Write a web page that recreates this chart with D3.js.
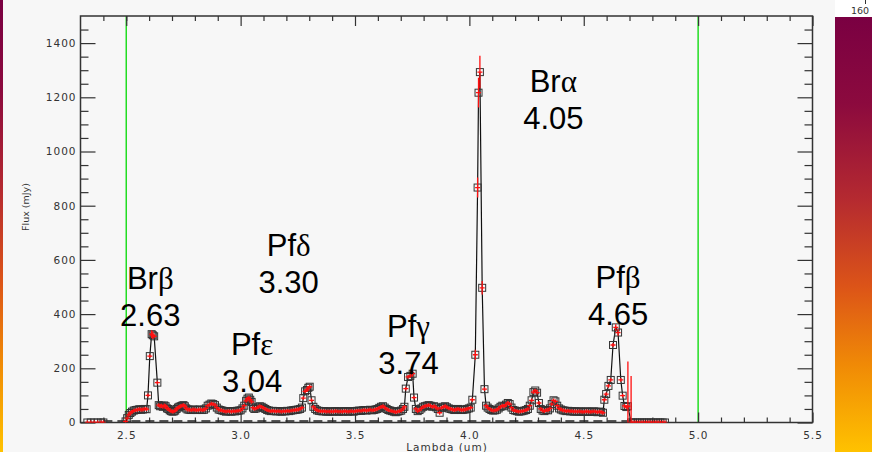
<!DOCTYPE html>
<html>
<head>
<meta charset="utf-8">
<script src="https://cdn.jsdelivr.net/npm/d3@7"></script>
<style>
  html, body { margin: 0; padding: 0; background: #f7f7f7; }
  svg { display: block; }
</style>
</head>
<body>
<svg id="chart" width="872" height="452"></svg>
<script>
// spectrum: wavelength (um) and flux (mJy)
var wavelength = [
  2.33, 2.345, 2.36, 2.375, 2.39, 2.40,
  2.497, 2.504, 2.511, 2.518, 2.525, 2.533, 2.541, 2.549, 2.557, 2.565, 2.573, 2.581, 2.589,
  2.595, 2.603, 2.611, 2.616, 2.622, 2.636, 2.642,
  2.648, 2.654, 2.660, 2.666, 2.672, 2.678, 2.684, 2.690, 2.696, 2.702, 2.708, 2.714, 2.720,
  2.726, 2.732, 2.738, 2.744, 2.750, 2.756, 2.762, 2.768, 2.776, 2.784, 2.792, 2.800, 2.808,
  2.816, 2.824, 2.832, 2.840, 2.848, 2.856, 2.864, 2.872, 2.880, 2.888, 2.896, 2.904, 2.912,
  2.920, 2.928, 2.936, 2.944, 2.952, 2.960, 2.968, 2.976, 2.984, 2.992, 3.000, 3.008, 3.016,
  3.024, 3.030, 3.036, 3.042, 3.048, 3.054, 3.060, 3.068, 3.076, 3.084, 3.092, 3.100, 3.108,
  3.116, 3.124, 3.132, 3.140, 3.148, 3.156, 3.164, 3.172, 3.180, 3.188, 3.196, 3.204, 3.212,
  3.220, 3.228, 3.236, 3.244, 3.252, 3.260, 3.268, 3.274, 3.282, 3.290, 3.296, 3.302, 3.310,
  3.318, 3.326, 3.334, 3.342, 3.350, 3.358, 3.366, 3.374, 3.382, 3.390, 3.398, 3.406, 3.414,
  3.422, 3.430, 3.438, 3.446, 3.454, 3.462, 3.470, 3.478, 3.486, 3.494, 3.502, 3.510, 3.518,
  3.526, 3.534, 3.542, 3.550, 3.558, 3.566, 3.574, 3.582, 3.590, 3.598, 3.606, 3.614, 3.622,
  3.630, 3.638, 3.646, 3.654, 3.662, 3.670, 3.678, 3.686, 3.694, 3.702, 3.710, 3.716, 3.722,
  3.732, 3.742, 3.752, 3.758, 3.766, 3.774, 3.782, 3.790, 3.798, 3.806, 3.814, 3.822, 3.830,
  3.838, 3.846, 3.854, 3.862, 3.870, 3.878, 3.886, 3.894, 3.902, 3.910, 3.918, 3.926, 3.934,
  3.942, 3.950, 3.958, 3.966, 3.974, 3.982, 3.990, 3.998, 4.006, 4.013, 4.026, 4.036, 4.040,
  4.046, 4.056, 4.066, 4.073, 4.080, 4.088, 4.096, 4.104, 4.112, 4.120, 4.128, 4.136, 4.144,
  4.152, 4.160, 4.168, 4.176, 4.184, 4.192, 4.200, 4.208, 4.216, 4.224, 4.232, 4.240, 4.248,
  4.256, 4.264, 4.272, 4.280, 4.288, 4.296, 4.304, 4.312, 4.320, 4.328, 4.336, 4.344, 4.352,
  4.360, 4.368, 4.376, 4.384, 4.392, 4.400, 4.408, 4.416, 4.424, 4.432, 4.440, 4.448, 4.456,
  4.464, 4.472, 4.480, 4.488, 4.496, 4.504, 4.512, 4.520, 4.528, 4.536, 4.544, 4.552, 4.560,
  4.568, 4.576, 4.584, 4.590, 4.598, 4.608, 4.618, 4.628, 4.640, 4.650, 4.662, 4.670, 4.678,
  4.686, 4.693, 4.707, 4.715, 4.725, 4.735, 4.745, 4.755, 4.765, 4.775, 4.785, 4.795, 4.805,
  4.815, 4.825, 4.835, 4.845, 4.855
];
var flux = [
  0, 0, 0, 0, 0, 0,
  4, 16, 28, 35, 40, 44, 46, 47, 49, 47, 48, 50, 49,
  100, 245, 326, 322, 318, 147, 64,
  60, 62, 58, 63, 60, 52, 50, 45, 42, 40, 41, 44, 50,
  55, 58, 60, 62, 64, 60, 52, 48, 47, 46, 48, 47, 46,
  47, 48, 46, 47, 52, 62, 66, 70, 68, 64, 55, 48, 46,
  44, 42, 40, 42, 41, 40, 42, 41, 43, 44, 45, 52, 62,
  80, 88, 92, 84, 76, 55, 50, 52, 56, 60, 58, 54, 50,
  46, 44, 42, 43, 42, 41, 42, 41, 40, 42, 41, 43, 42,
  44, 45, 46, 47, 48, 50, 55, 90, 115, 120, 128, 132, 82,
  58, 50, 45, 43, 42, 41, 42, 40, 41, 40, 41, 40, 42,
  41, 40, 41, 40, 42, 41, 40, 41, 42, 40, 42, 43, 44,
  43, 45, 46, 44, 46, 47, 45, 46, 48, 50, 54, 58, 60,
  55, 50, 46, 44, 42, 40, 38, 40, 42, 44, 50, 58, 125,
  168, 172, 180, 92, 50, 42, 46, 52, 58, 60, 62, 64, 62,
  58, 60, 56, 50, 36, 54, 58, 60, 56, 52, 50, 48, 46,
  48, 50, 48, 46, 47, 48, 50, 52, 55, 84, 250, 867, 1217,
  1293, 497, 123, 62, 55, 50, 46, 44, 45, 47, 52, 58, 62,
  60, 66, 72, 68, 55, 46, 44, 42, 40, 41, 42, 44, 46,
  50, 62, 82, 112, 118, 110, 72, 50, 44, 42, 46, 45, 52,
  68, 82, 78, 62, 52, 48, 45, 44, 42, 43, 41, 42, 40,
  41, 40, 41, 40, 39, 40, 41, 40, 39, 40, 41, 40, 38,
  40, 39, 36, 84, 105, 135, 157, 286, 351, 332, 157, 99, 61,
  57, 60, 0, 0, 0, 0, 0, 0, 0, 0, 0, 0, 0, 0,
  0, 0, 0, 0, 0
];
// error bars that stand out; the rest are about +/- 7 mJy
var errWavelength = [2.611, 2.616, 3.752, 4.026, 4.036, 4.040, 4.046, 4.056, 4.640, 4.650, 4.693, 4.707];
var errFlux = [14, 14, 10, 18, 37, 55, 60, 25, 12, 12, 165, 172];
var defaultErr = 7;

var xTicks = [2.5, 3.0, 3.5, 4.0, 4.5, 5.0, 5.5];
var xMinor = [2.4, 2.5, 2.6, 2.7, 2.8, 2.9, 3.1, 3.2, 3.3, 3.4, 3.6, 3.7, 3.8, 3.9, 4.1, 4.2,
  4.3, 4.4, 4.6, 4.7, 4.8, 4.9, 5.1, 5.2, 5.3, 5.4];
var yTicks = [0, 200, 400, 600, 800, 1000, 1200, 1400];
var yMinor = [50, 100, 150, 250, 300, 350, 450, 500, 550, 650, 700, 750, 850, 900, 950,
  1050, 1100, 1150, 1250, 1300, 1350, 1450];
var markerLines = [2.5, 5.0];

// line labels, anchored in data units (wavelength, flux)
var lineNames = ['Br', 'Pf', 'Pf', 'Pf', 'Br', 'Pf'];
var lineGreek = ['β', 'δ', 'ε', 'γ', 'α', 'β'];
var lineWaves = ['2.63', '3.30', '3.04', '3.74', '4.05', '4.65'];
var labelAtWave = [2.605, 3.21, 3.05, 3.734, 4.367, 4.65];
var labelAtFlux = [493, 614, 249, 315, 1219, 496];

var svg = d3.select('#chart');
var W = 872, H = 452;

var padL = 80.5, padR = 812.5, padT = 16, padB = 422.5;
var x = d3.scaleLinear().domain([2.3, 5.5]).range([padL, padR]);
var y = d3.scaleLinear().domain([0, 1500]).range([padB, padT]);

var defs = svg.append('defs');
var grad = defs.append('linearGradient').attr('id', 'heat')
    .attr('x1', 0).attr('y1', 0).attr('x2', 0).attr('y2', 1);
[['0', '#7a0042'], ['0.2', '#8c0a3e'], ['0.42', '#b52a30'], ['0.62', '#dc5418'],
 ['0.8', '#f08a06'], ['1', '#ffc200']].forEach(function(s) {
    grad.append('stop').attr('offset', s[0]).attr('stop-color', s[1]);
});
defs.append('clipPath').attr('id', 'plotclip')
    .append('rect').attr('x', padL).attr('y', padT)
    .attr('width', padR - padL).attr('height', padB - padT);

// side decorations
svg.append('rect').attr('x', 0).attr('y', 0).attr('width', 3).attr('height', H)
    .attr('fill', 'url(#heat)');
svg.append('rect').attr('x', 835).attr('y', 0).attr('width', 37).attr('height', 17)
    .attr('fill', '#ffffff');
svg.append('rect').attr('x', 835).attr('y', 17).attr('width', 37).attr('height', H - 17)
    .attr('fill', 'url(#heat)');
svg.append('line').attr('x1', 865.5).attr('x2', 865.5).attr('y1', 0).attr('y2', 4)
    .attr('stroke', '#333');
svg.append('text').attr('x', 851).attr('y', 14)
    .attr('font-family', 'DejaVu Sans').attr('font-size', 9.5).attr('fill', '#333')
    .text('160');

// green limit lines
svg.append('g').selectAll('line').data(markerLines).enter().append('line')
    .attr('x1', function(d) { return x(d); }).attr('x2', function(d) { return x(d); })
    .attr('y1', padT).attr('y2', padB)
    .attr('stroke', '#22dd22').attr('stroke-width', 1.5);

// axes
var tickFont = function(g) {
    g.select('.domain').remove();
    g.selectAll('line').attr('stroke', '#333').attr('stroke-width', 1.2);
    g.selectAll('text').attr('font-family', 'DejaVu Sans').attr('font-size', 10.5)
        .attr('letter-spacing', 1).attr('fill', '#333');
};
svg.append('g').attr('transform', 'translate(0,' + padB + ')')
    .call(d3.axisBottom(x).tickValues(xTicks).tickSize(-10).tickPadding(9)
        .tickFormat(d3.format('.1f')))
    .call(tickFont);
svg.append('g').attr('transform', 'translate(0,' + padB + ')')
    .call(d3.axisBottom(x).tickValues(xMinor).tickSize(-5).tickFormat(''))
    .call(tickFont);
svg.append('g').attr('transform', 'translate(0,' + padT + ')')
    .call(d3.axisTop(x).tickValues(xTicks).tickSize(-10).tickFormat(''))
    .call(tickFont);
svg.append('g').attr('transform', 'translate(0,' + padT + ')')
    .call(d3.axisTop(x).tickValues(xMinor).tickSize(-5).tickFormat(''))
    .call(tickFont);
svg.append('g').attr('transform', 'translate(' + padL + ',0)')
    .call(d3.axisLeft(y).tickValues(yTicks).tickSize(-15).tickPadding(4)
        .tickFormat(d3.format('d')))
    .call(tickFont);
svg.append('g').attr('transform', 'translate(' + padL + ',0)')
    .call(d3.axisLeft(y).tickValues(yMinor).tickSize(-8).tickFormat(''))
    .call(tickFont);
svg.append('g').attr('transform', 'translate(' + padR + ',0)')
    .call(d3.axisRight(y).tickValues(yTicks).tickSize(-15).tickFormat(''))
    .call(tickFont);
svg.append('g').attr('transform', 'translate(' + padR + ',0)')
    .call(d3.axisRight(y).tickValues(yMinor).tickSize(-8).tickFormat(''))
    .call(tickFont);

svg.append('rect').attr('x', padL).attr('y', padT)
    .attr('width', padR - padL).attr('height', padB - padT)
    .attr('fill', 'none').attr('stroke', '#333').attr('stroke-width', 1.5);

svg.append('text').attr('transform', 'translate(29,' + 207 + ') rotate(-90)')
    .attr('text-anchor', 'middle')
    .attr('font-family', 'DejaVu Sans').attr('font-size', 9.5).attr('fill', '#333')
    .text('Flux (mJy)');
svg.append('text').attr('x', 447).attr('y', 451)
    .attr('text-anchor', 'middle')
    .attr('font-family', 'DejaVu Sans').attr('font-size', 10.5).attr('letter-spacing', 1)
    .attr('fill', '#333')
    .text('Lambda (um)');

// data
var pts = wavelength.map(function(w, i) {
    var k = errWavelength.indexOf(w);
    return { w: w, f: flux[i], e: k >= 0 ? errFlux[k] : defaultErr };
});

var plot = svg.append('g').attr('clip-path', 'url(#plotclip)');

// dashed zero level
plot.append('line')
    .attr('x1', x(2.40)).attr('x2', x(4.70))
    .attr('y1', y(0) - 1.5).attr('y2', y(0) - 1.5)
    .attr('stroke', '#222').attr('stroke-width', 1.3).attr('stroke-dasharray', '9,5');

// spectrum line, broken where the coverage has a hole
var segments = [[]];
pts.forEach(function(p, i) {
    if (i > 0 && p.w - pts[i - 1].w > 0.05) segments.push([]);
    segments[segments.length - 1].push(p);
});
var line = d3.line().x(function(d) { return x(d.w); }).y(function(d) { return y(d.f); });
plot.selectAll('path.spec').data(segments).enter().append('path')
    .attr('class', 'spec')
    .attr('d', line)
    .attr('fill', 'none').attr('stroke', '#111').attr('stroke-width', 1.2);

plot.append('g').selectAll('rect').data(pts).enter().append('rect')
    .attr('x', function(d) { return x(d.w) - 3.5; })
    .attr('y', function(d) { return y(d.f) - 3.5; })
    .attr('width', 7).attr('height', 7)
    .attr('fill', 'none').attr('stroke', '#333').attr('stroke-width', 1);

var errs = plot.append('g').attr('stroke', '#ff1010').attr('stroke-width', 1.3);
errs.selectAll('line.v').data(pts).enter().append('line').attr('class', 'v')
    .attr('x1', function(d) { return x(d.w); }).attr('x2', function(d) { return x(d.w); })
    .attr('y1', function(d) { return y(d.f - d.e); })
    .attr('y2', function(d) { return y(d.f + d.e); });
errs.selectAll('line.h').data(pts).enter().append('line').attr('class', 'h')
    .attr('x1', function(d) { return x(d.w) - 2.5; }).attr('x2', function(d) { return x(d.w) + 2.5; })
    .attr('y1', function(d) { return y(d.f); }).attr('y2', function(d) { return y(d.f); });

// line labels
var labels = svg.append('g')
    .attr('font-family', 'Liberation Sans, Arial, sans-serif')
    .attr('font-size', 31).attr('fill', '#000').attr('text-anchor', 'middle');
lineNames.forEach(function(name, i) {
    var t = labels.append('text')
        .attr('x', x(labelAtWave[i])).attr('y', y(labelAtFlux[i]));
    t.append('tspan').text(name);
    t.append('tspan').attr('font-family', 'Liberation Serif, serif').text(lineGreek[i]);
    labels.append('text')
        .attr('x', x(labelAtWave[i])).attr('y', y(labelAtFlux[i]) + 37)
        .text(lineWaves[i]);
});
</script>
</body>
</html>
